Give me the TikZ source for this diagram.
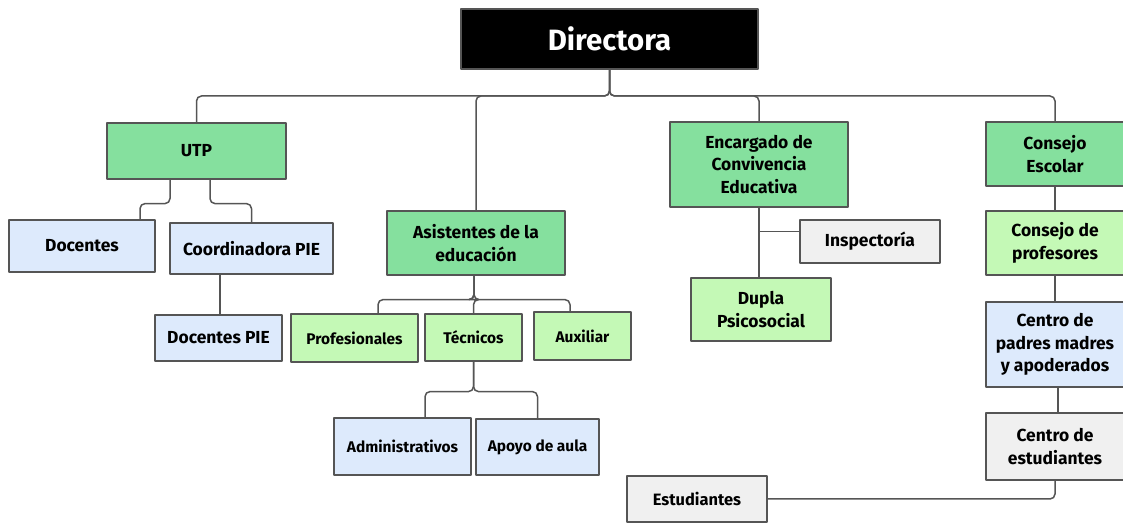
\documentclass[tikz,border=0pt]{standalone}
\usepackage{fontspec}
\setmainfont{Fira Sans}
\definecolor{cargo}{HTML}{85E09E}
\definecolor{equipo}{HTML}{C4F9B6}
\definecolor{apoyo}{HTML}{DDEAFC}
\definecolor{gris}{HTML}{F0F0F0}
\definecolor{borde}{HTML}{555555}
\begin{document}
\begin{tikzpicture}[line join=bevel,
  box/.style={draw=borde,line width=1.2bp,inner sep=0pt,align=center,
    font=\fontsize{17.5}{22.5}\selectfont\bfseries},
  boxsm/.style={box,font=\fontsize{15.5}{20}\selectfont\bfseries},
  conn/.style={draw=borde,line width=1.5bp,rounded corners=5bp},
]
\useasboundingbox (0,0) rectangle (1123bp,523bp);
%%
\node (dir) at (609.5bp,484bp) [box,fill=black,text=white,minimum width=297bp,minimum height=60bp,font=\fontsize{29.5}{32}\selectfont\bfseries] {Directora};
  \node (utp) at (196.5bp,372bp) [box,fill=cargo,minimum width=179bp,minimum height=56bp] {UTP};
  \node (doc) at (82bp,277bp) [box,fill=apoyo,minimum width=146bp,minimum height=52bp] {Docentes};
  \node (coord) at (251.5bp,274.5bp) [box,fill=apoyo,minimum width=163bp,minimum height=51bp] {Coordinadora PIE};
  \node (docpie) at (218.5bp,185bp) [box,fill=apoyo,minimum width=127bp,minimum height=46bp] {Docentes PIE};
  \node (asist) at (476bp,280bp) [box,fill=cargo,minimum width=178bp,minimum height=64bp] {Asistentes de la\\educación};
  \node (prof) at (354.5bp,185bp) [boxsm,fill=equipo,minimum width=127bp,minimum height=48bp] {Profesionales};
  \node (tec) at (473.5bp,185.5bp) [boxsm,fill=equipo,minimum width=97bp,minimum height=47bp] {Técnicos};
  \node (aux) at (582.5bp,187bp) [boxsm,fill=equipo,minimum width=97bp,minimum height=48bp] {Auxiliar};
  \node (admin) at (402.5bp,76.5bp) [boxsm,fill=apoyo,minimum width=137bp,minimum height=57bp] {Administrativos};
  \node (aula) at (537.5bp,76bp) [boxsm,fill=apoyo,minimum width=123bp,minimum height=56bp] {Apoyo de aula};
  \node (enc) at (759bp,358.5bp) [box,fill=cargo,minimum width=178bp,minimum height=85bp] {Encargado de\\Convivencia\\Educativa};
  \node (insp) at (870bp,281.5bp) [box,fill=gris,minimum width=140bp,minimum height=43bp] {Inspectoría};
  \node (dupla) at (761bp,213.5bp) [box,fill=equipo,minimum width=140bp,minimum height=63bp] {Dupla\\Psicosocial};
  \node (cesc) at (1055bp,369bp) [box,fill=cargo,minimum width=138bp,minimum height=64bp] {Consejo\\Escolar};
  \node (cprof) at (1055bp,280bp) [box,fill=equipo,minimum width=138bp,minimum height=64bp] {Consejo de\\profesores};
  \node (cpadres) at (1055bp,178.5bp) [box,fill=apoyo,minimum width=138bp,minimum height=85bp] {Centro de\\padres madres\\y apoderados};
  \node (cest) at (1055bp,76.5bp) [box,fill=gris,minimum width=138bp,minimum height=67bp] {Centro de\\estudiantes};
  \node (est) at (697bp,24bp) [box,fill=gris,minimum width=140bp,minimum height=46bp,font=\fontsize{16.5}{20}\selectfont\bfseries] {Estudiantes};
%
\coordinate (bus) at (609.5bp,427bp);
  \draw [conn] (dir.south) -- (bus) -| (utp.north);
  \draw [conn] (dir.south) -- (bus) -| (asist.north);
  \draw [conn] (dir.south) -- (bus) -| (enc.north);
  \draw [conn] (dir.south) -- (bus) -| (cesc.north);
  \draw [conn] ([xshift=-26.5bp]utp.south) -- ++(0,-24bp) -| ([xshift=58bp]doc.north);
  \draw [conn] ([xshift=13.5bp]utp.south) -- ++(0,-24bp) -| (coord.north);
  \draw [conn] ([xshift=-31.5bp]coord.south) -- ([xshift=-31.5bp]coord.south |- docpie.north);
  \draw [conn] ([xshift=-2bp]asist.south) -- ++(0,-24bp) -| ([xshift=23.5bp]prof.north);
  \draw [conn] ([xshift=-2bp]asist.south) -- ++(0,-24bp) -| (tec.north);
  \draw [conn] ([xshift=-2bp]asist.south) -- ++(0,-24bp) -| ([xshift=-12.5bp]aux.north);
  \draw [conn] (tec.south) -- ++(0,-30bp) -| ([xshift=22.5bp]admin.north);
  \draw [conn] (tec.south) -- ++(0,-30bp) -| (aula.north);
  \draw [conn] (enc.south) -- (enc.south |- dupla.north);
  \draw [conn] ([yshift=10bp]insp.west) -- ([yshift=10bp]insp.west -| enc.south);
  \draw [conn] (cesc.south) -- (cprof.north);
  \draw [conn] (cprof.south) -- (cpadres.north);
  \draw [conn] ([xshift=3bp]cpadres.south) -- ([xshift=3bp]cest.north);
  \draw [conn] (cest.south) |- (est.east);
%
\end{tikzpicture}
\end{document}
